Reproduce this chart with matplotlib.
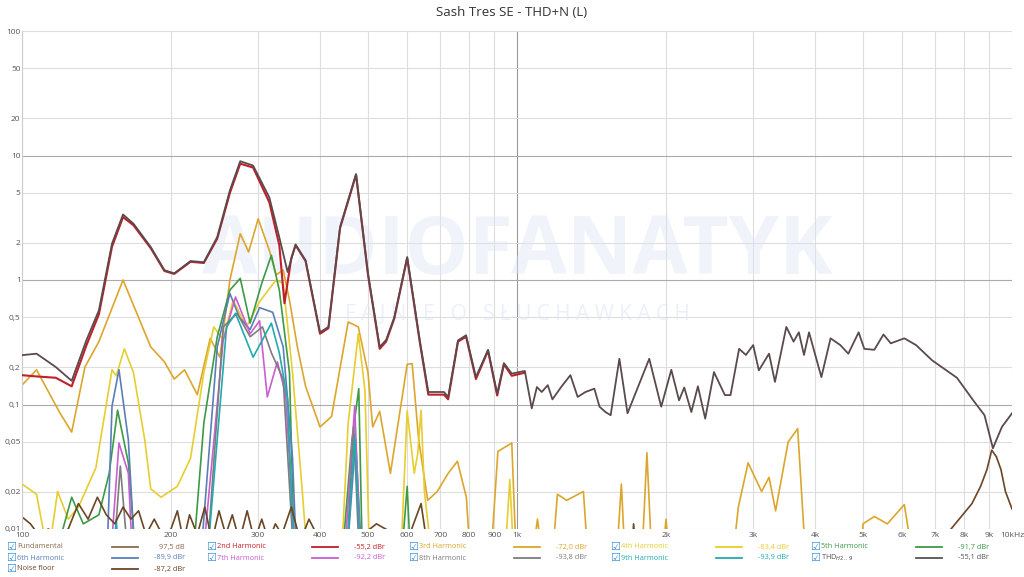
import matplotlib
matplotlib.use("Agg")
import matplotlib.pyplot as plt

plt.rcParams['font.family'] = ['Open Sans', 'DejaVu Sans']

# ---------------- data (frequency Hz, level %) ----------------
thd_f = [100,107,117,126,135,143,152,160,168,182,194,203,219,233,248,263,276,293,316,331,344,357,374,400,416,439,473,500,528,544,565,600,636,662,
         674,712,726,760,789,826,874,912,941,976,1037,1071,1097,1122,1154,1179,1231,1282,1326,1375,1433,1468,1509,1546,1610,1672,1850,1956,2050,2125,2177,2250,2320,2400,2500,2630,2700,2810,2900,3000,3080,3230,3320,3500,3620,3710,3800,3890,4120,4300,4500,4670,4900,5030,5270,5500,5690,6060,6400,6900,7740,8350,8800,9150,9540,10000]
thd_v = [0.249,0.256,0.20,0.155,0.33,0.57,1.96,3.36,2.83,1.84,1.2,1.13,1.42,1.39,2.21,5.24,9.0,8.3,4.6,2.2,1.16,1.93,1.44,0.38,0.42,2.66,7.1,1.13,0.29,0.33,0.5,1.53,0.33,0.126,
         0.126,0.126,0.115,0.327,0.36,0.166,0.275,0.122,0.215,0.177,0.186,0.093,0.138,0.126,0.143,0.11,0.14,0.172,0.115,0.126,0.134,0.096,0.087,0.082,0.233,0.085,0.233,0.096,0.19,0.108,0.137,0.087,0.14,0.077,0.182,0.119,0.119,0.28,0.25,0.3,0.188,0.256,0.152,0.42,0.32,0.38,0.25,0.38,0.166,0.34,0.3,0.256,0.38,0.28,0.275,0.365,0.31,0.34,0.3,0.226,0.164,0.108,0.082,0.0445,0.066,0.085]

h2_f = [100,107,117,126,135,143,152,160,168,182,194,203,219,233,248,263,276,293,316,331,339,350,357,374,400,416,439,473,500,528,544,565,600,636,662,674,712,726,760,789,826,874,912,941,976,1037]
h2_v = [0.172,0.168,0.164,0.14,0.3,0.53,1.85,3.2,2.75,1.8,1.18,1.12,1.4,1.37,2.15,5.0,8.6,8.0,4.2,1.9,0.65,1.5,1.9,1.42,0.37,0.41,2.6,7.0,1.1,0.28,0.32,0.49,1.5,0.32,0.12,0.12,0.12,0.11,0.32,0.35,0.16,0.27,0.118,0.21,0.17,0.18]

h3_f = [100,107,119,126,134,143,160,182,194,203,213,226,240,251,263,276,287,300,316,326,337,347,360,374,400,422,456,478,500,511,528,555,600,614,633,660,690,726,758,790,810,880,915,976,1000,1060,1100,1140,1170,1207,1260,1362,1400,1580,1625,1660,1780,1830,1880,1950,2000,2050,2700,2800,2930,3120,3230,3330,3530,3690,3850,4950,5000,5270,5600,6060,6400]
h3_v = [0.143,0.19,0.087,0.06,0.2,0.32,1.0,0.29,0.22,0.16,0.19,0.12,0.34,0.24,1.0,2.35,1.68,3.1,1.73,1.1,1.2,0.69,0.29,0.14,0.066,0.08,0.46,0.42,0.18,0.066,0.088,0.028,0.21,0.213,0.052,0.017,0.02,0.028,0.035,0.018,0.004,0.004,0.042,0.049,0.004,0.004,0.012,0.004,0.004,0.019,0.017,0.02,0.004,0.004,0.023,0.004,0.004,0.041,0.004,0.004,0.012,0.004,0.004,0.015,0.034,0.02,0.026,0.014,0.05,0.064,0.004,0.004,0.011,0.0126,0.011,0.0157,0.004]

h4_f = [100,107,113,118,124,130,141,152,155,161,168,177,182,191,206,219,233,244,255,267,284,302,326,337,352,368,380,440,456,478,493,505,580,600,620,630,640,650,680,940,967,990]
h4_v = [0.023,0.019,0.006,0.02,0.012,0.015,0.031,0.19,0.17,0.28,0.18,0.052,0.021,0.018,0.022,0.037,0.18,0.42,0.33,0.69,0.42,0.67,1.0,0.94,0.18,0.021,0.004,0.004,0.071,0.37,0.13,0.004,0.004,0.089,0.028,0.04,0.09,0.02,0.004,0.004,0.025,0.004]

h5_f = [100,118,126,133,143,150,156,164,171,190,220,233,248,263,276,289,305,319,331,347,356,440,464,479,488,580,600,612]
h5_v = [0.004,0.007,0.018,0.011,0.013,0.028,0.09,0.034,0.004,0.004,0.004,0.071,0.35,0.83,1.03,0.45,0.94,1.58,0.83,0.18,0.004,0.004,0.052,0.134,0.004,0.004,0.022,0.004]

h6_f = [100,148,152,157,164,170,228,248,263,275,289,302,321,337,352,360,450,472,488]
h6_v = [0.004,0.004,0.097,0.19,0.052,0.004,0.004,0.29,0.78,0.5,0.4,0.6,0.55,0.29,0.037,0.004,0.004,0.052,0.004]

h7_f = [100,150,157,164,168,230,255,270,289,302,313,328,341,358,445,470,485]
h7_v = [0.004,0.004,0.049,0.028,0.004,0.004,0.33,0.73,0.37,0.47,0.115,0.22,0.12,0.004,0.004,0.097,0.004]

h8_f = [100,152,158,165,235,255,272,289,306,319,337,356,450,468,482]
h8_v = [0.004,0.004,0.032,0.004,0.004,0.42,0.54,0.35,0.42,0.26,0.16,0.004,0.004,0.066,0.004]

h9_f = [100,152,155,158,235,259,270,293,306,319,331,344,356,450,470,485]
h9_v = [0.004,0.004,0.012,0.004,0.004,0.42,0.54,0.24,0.33,0.45,0.26,0.11,0.004,0.004,0.055,0.004]

noise_f = [100,104,108,113,118,124,130,136,142,148,154,160,166,172,178,185,192,200,206,212,218,226,234,242,250,258,266,275,285,295,305,315,325,335,350,365,380,400,430,470,520,600,640,660,700,1200,1700,1720,1750,2000,7000,7530,8000,8300,8640,8900,9100,9300,9500,9700,10000]
noise_v = [0.0125,0.011,0.009,0.01,0.009,0.01,0.016,0.012,0.018,0.013,0.011,0.015,0.012,0.014,0.009,0.012,0.009,0.01,0.014,0.008,0.013,0.009,0.015,0.008,0.014,0.009,0.013,0.008,0.014,0.008,0.012,0.008,0.011,0.009,0.015,0.008,0.012,0.008,0.009,0.008,0.011,0.008,0.016,0.007,0.005,0.005,0.005,0.011,0.005,0.005,0.005,0.01,0.0134,0.016,0.022,0.03,0.043,0.038,0.03,0.02,0.0145]

series = [
    (h3_f, h3_v, "#dca62c"),
    (h4_f, h4_v, "#e8cd30"),
    (h5_f, h5_v, "#3c9a46"),
    (h6_f, h6_v, "#5a7fb8"),
    (h7_f, h7_v, "#c85fd0"),
    (h8_f, h8_v, "#7d7d7d"),
    (h9_f, h9_v, "#22aab0"),
    (noise_f, noise_v, "#6b4526"),
]

legend_rows = [
    [("Fundamental", "#8b6a4a", "97,5 dB"), ("2nd Harmonic", "#c0202a", "-55,2 dBr"), ("3rd Harmonic", "#dca62c", "-72,0 dBr"), ("4th Harmonic", "#e8cd30", "-83,4 dBr"), ("5th Harmonic", "#3c9a46", "-91,7 dBr")],
    [("6th Harmonic", "#5a7fb8", "-89,9 dBr"), ("7th Harmonic", "#c85fd0", "-92,2 dBr"), ("8th Harmonic", "#7d7d7d", "-93,8 dBr"), ("9th Harmonic", "#22aab0", "-93,9 dBr"), ("THD$_{H2..9}$", "#555555", "-55,1 dBr")],
    [("Noise floor", "#6b4526", "-87,2 dBr")],
]

yticks = [100, 50, 20, 10, 5, 2, 1, 0.5, 0.2, 0.1, 0.05, 0.02, 0.01]
ylabels = ["100", "50", "20", "10", "5", "2", "1", "0,5", "0,2", "0,1", "0,05", "0,02", "0,01"]
xticks = [100, 200, 300, 400, 500, 600, 700, 800, 900, 1000, 2000, 3000, 4000, 5000, 6000, 7000, 8000, 9000, 10000]
xlabels = ["100", "200", "300", "400", "500", "600", "700", "800", "900", "1k", "2k", "3k", "4k", "5k", "6k", "7k", "8k", "9k", "10kHz"]

# ---------------- plot ----------------
fig = plt.figure(figsize=(10.24, 5.77), dpi=100)
ax = fig.add_axes([22/1024, 1-529/577, 990/1024, 498/577])
ax.set_xscale("log"); ax.set_yscale("log")
ax.set_xlim(100, 10000); ax.set_ylim(0.01, 100)

for t in xticks:
    ax.axvline(t, color="#999999" if t == 1000 else "#dddddd", lw=0.8, zorder=0)
for t in yticks:
    ax.axhline(t, color="#aaaaaa" if t in (10, 1, 0.1) else "#dddddd", lw=0.8, zorder=0)

ax.text(0.5, 0.555, "AUDIOFANATYK", transform=ax.transAxes, ha="center", va="center",
        fontsize=58, fontweight="bold", color="#dfe7f4", alpha=0.45, zorder=0)
ax.text(0.5, 0.43, "F A J N I E   O   S Ł U C H A W K A C H", transform=ax.transAxes, ha="center",
        va="center", fontsize=15, color="#dfe7f4", alpha=0.6, zorder=0)

for f, v, c in series:
    ax.plot(f, v, color=c, lw=1.2, zorder=2)
ax.plot(h2_f, h2_v, color="#c0202a", lw=1.5, zorder=3)
ax.plot(thd_f, thd_v, color="#5b4a4c", lw=1.3, zorder=4)

ax.set_xticks(xticks); ax.set_xticklabels(xlabels)
ax.set_yticks(yticks); ax.set_yticklabels(ylabels)
ax.minorticks_off()
ax.tick_params(axis="both", length=0, labelsize=6, colors="#555555")
ax.tick_params(axis="x", pad=2)
ax.tick_params(axis="y", pad=1)
for s in ax.spines.values():
    s.set_visible(False)
ax.spines["left"].set_visible(True); ax.spines["left"].set_color("#cccccc")

fig.text(0.5, 1-12/577, "Sash Tres SE - THD+N (L)", ha="center", va="center", fontsize=9.5, color="#333333")

# legend
col_x = [6, 206, 408, 610, 810]
row_y = [547, 558, 569]
for r, row in enumerate(legend_rows):
    for c, (lab, col, val) in enumerate(row):
        x0 = col_x[c]; y0 = 1 - row_y[r]/577
        fig.text(x0/1024, y0, "☑", ha="left", va="center", fontsize=8, color="#3a8fd8",
                 family=["DejaVu Sans"])
        fig.text((x0+11)/1024, y0, lab, ha="left", va="center", fontsize=5.3, color=col)
        fig.add_artist(plt.Line2D([(x0+106)/1024, (x0+132)/1024], [y0, y0], color=col, lw=1.3))
        fig.text((x0+179)/1024, y0, val, ha="right", va="center", fontsize=5.3, color=col)

fig.savefig("out.png", dpi=100, facecolor="white")
